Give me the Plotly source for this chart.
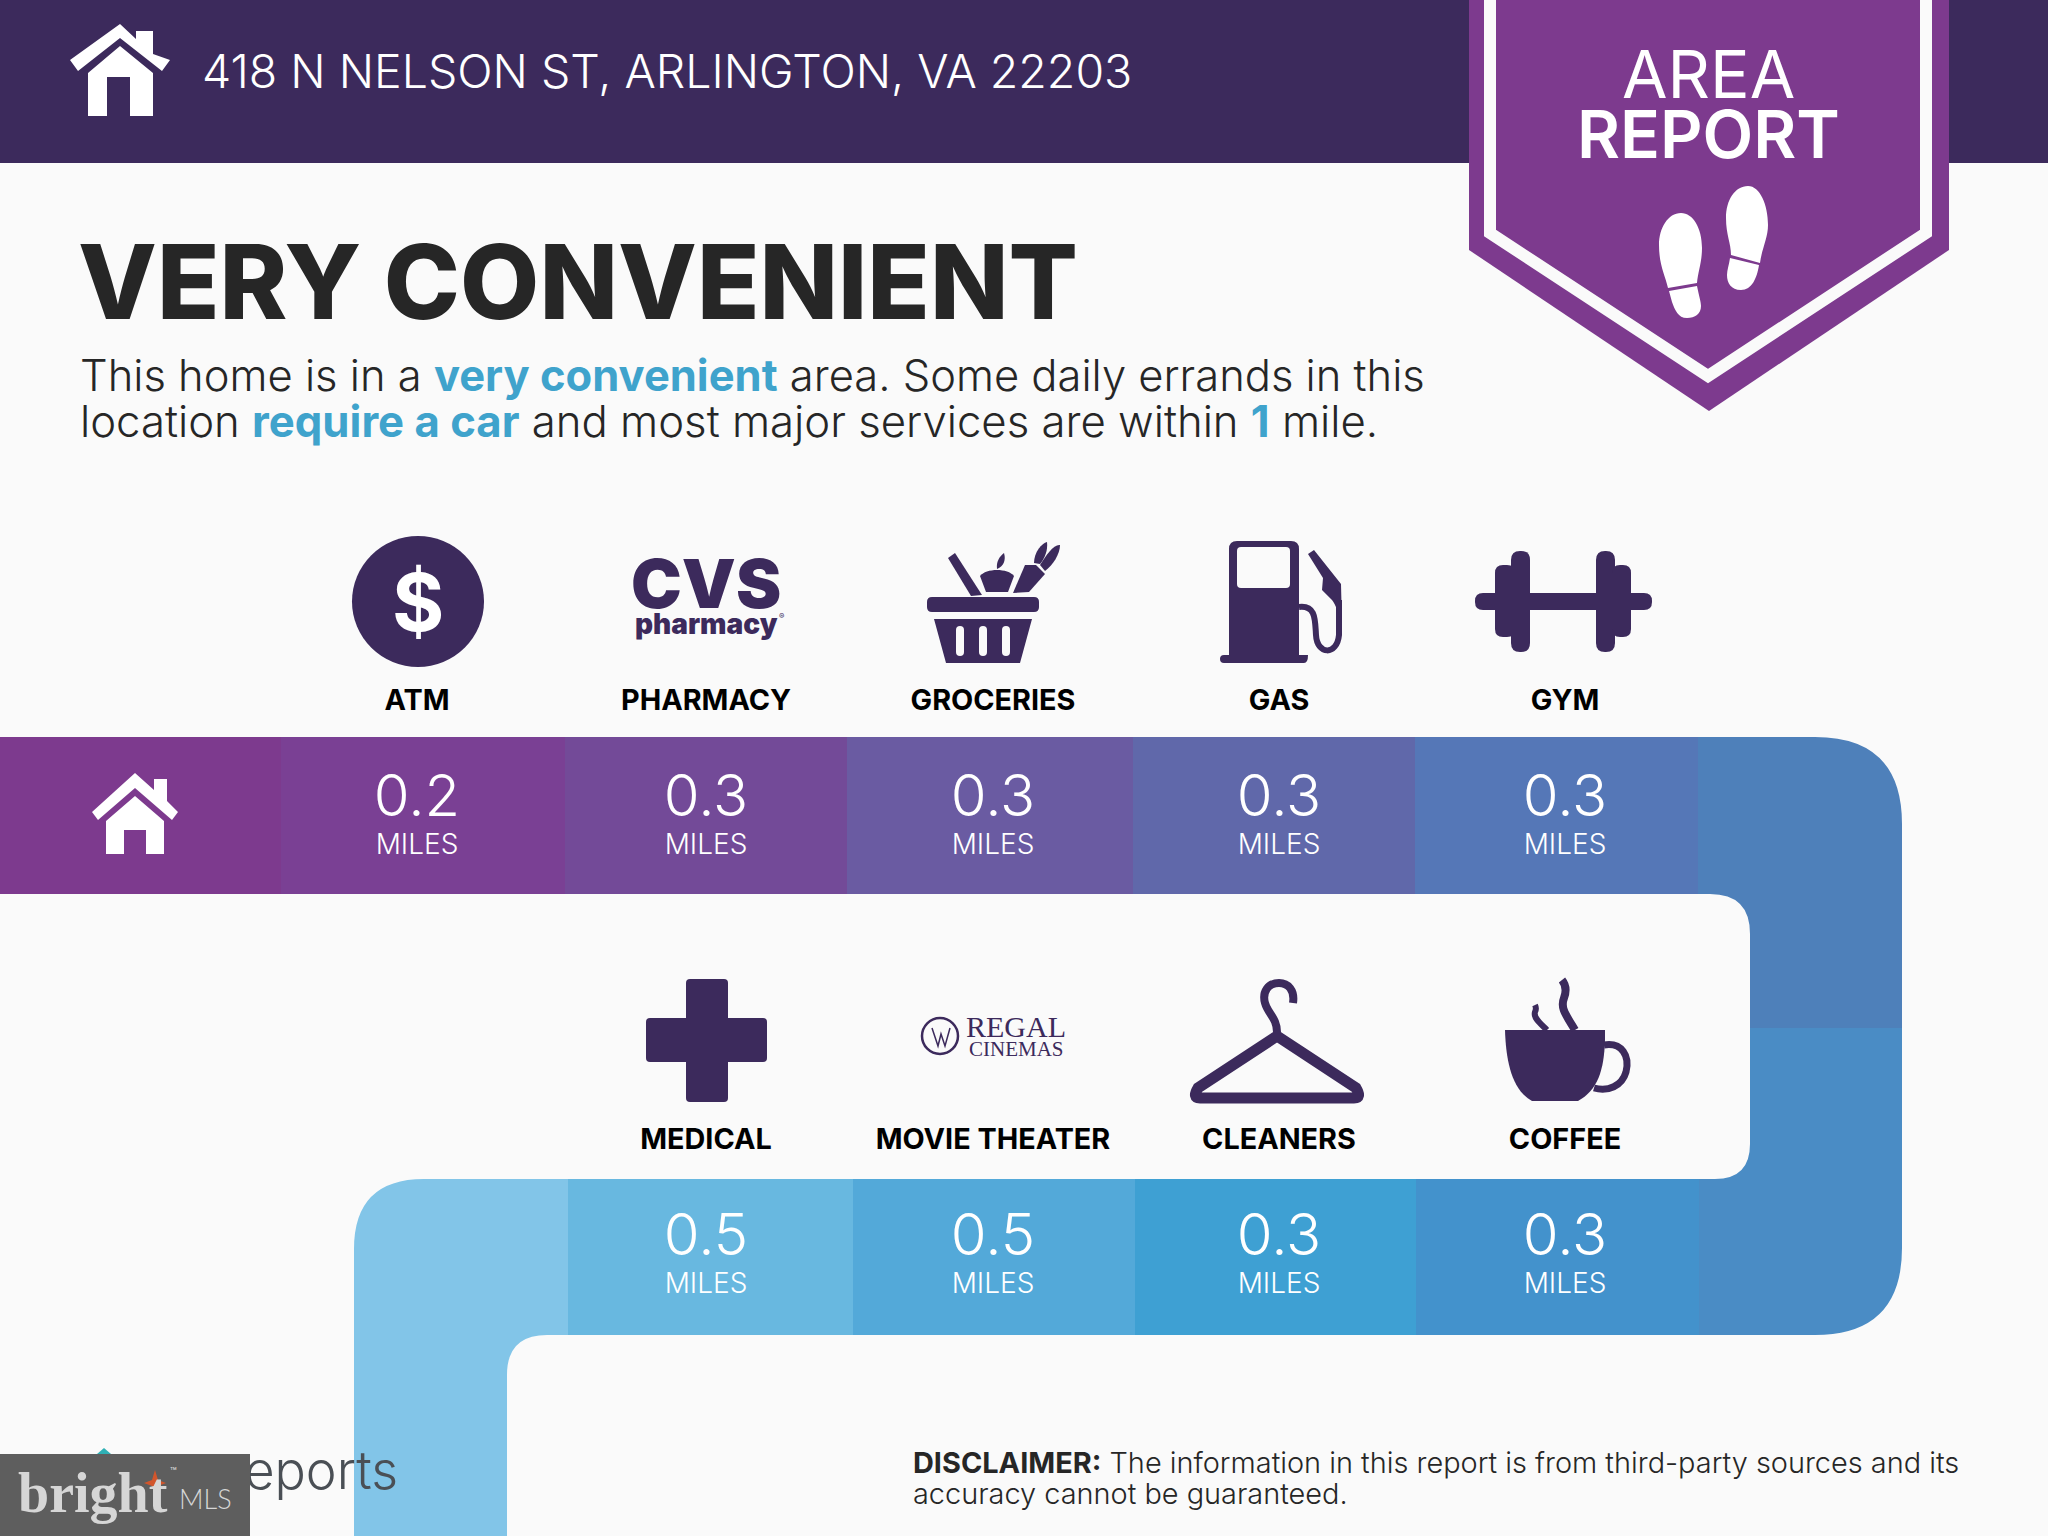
import plotly.graph_objects as go

# values
address = "418 N NELSON ST, ARLINGTON, VA 22203"
places_top = ["ATM", "PHARMACY", "GROCERIES", "GAS", "GYM"]
miles_top = [0.2, 0.3, 0.3, 0.3, 0.3]
places_bottom = ["MEDICAL", "MOVIE THEATER", "CLEANERS", "COFFEE"]
miles_bottom = [0.5, 0.5, 0.3, 0.3]

# layout of the page, in pixels
x_top = [417, 706, 993, 1279, 1565]
x_bottom = [706, 993, 1279, 1565]
edges_top = [0, 281, 565, 847, 1133, 1415, 1699]
edges_bottom = [354, 568, 853, 1135, 1416, 1699]
colors_top = ["#7d3a8e", "#7a4094", "#734a98", "#6a5ba2", "#6068aa", "#5577b7"]
colors_bottom = ["#82c5e8", "#68b8e0", "#53a9d9", "#3ea0d3", "#4392cc"]

BG = "#fafafa"
DARK = "#3c2a5c"
PURPLE = "#7d3a8e"
ACCENT = "#3fa3cc"
INK = "#262626"
FONT = "Inter"

shapes = []
annotations = []


def path(d, fill=DARK, line=None, width=0, layer="below"):
    shapes.append(dict(type="path", path=d, xref="x", yref="y", layer=layer,
                       fillcolor=fill if fill else "rgba(0,0,0,0)",
                       line=dict(color=line if line else "rgba(0,0,0,0)", width=width)))


def rrect(x0, y0, x1, y1, r=0, fill=DARK, layer="below"):
    d = (f"M{x0+r},{y0} L{x1-r},{y0} Q{x1},{y0} {x1},{y0+r} L{x1},{y1-r} Q{x1},{y1} {x1-r},{y1} "
         f"L{x0+r},{y1} Q{x0},{y1} {x0},{y1-r} L{x0},{y0+r} Q{x0},{y0} {x0+r},{y0} Z")
    path(d, fill, layer=layer)


def label(x, y, text, size, color=INK, weight=400, family=FONT, xanchor="left"):
    annotations.append(dict(x=x, y=y, xref="x", yref="y", text=text, showarrow=False,
                            xanchor=xanchor, yanchor="middle", borderpad=0,
                            font=dict(size=size, color=color, family=family, weight=weight)))


# header
rrect(0, 0, 2048, 163, fill=DARK)
path("M120,24 L136,39 L136,31 L153,31 L153,54 L170,60 L162,71 L120,38 L78,71 L70,60 Z", "white")
path("M120,46 L153,73 L153,116 L130,116 L130,77 L107,77 L107,116 L88,116 L88,73 Z", "white")
label(201, 71, address, 46.5, "white", 300)

# banner
path("M1469,0 L1949,0 L1949,250 L1709,411 L1469,250 Z", PURPLE)
path("M1490,-5 L1490,233 L1708,376 L1926,233 L1926,-5", None, BG, 12)
label(1708, 74, "AREA", 66, "white", 400, xanchor="center")
label(1708, 134, "REPORT", 66, "white", 600, xanchor="center")
path("M1681,213 C1693,213 1702,228 1702,248 C1702,262 1698,272 1697,283 L1668,288 "
     "C1665,275 1659,265 1659,245 C1659,228 1668,213 1681,213 Z", "white")
path("M1669,291 L1697,286 C1699,296 1701,302 1701,306 C1701,314 1695,318 1687,318 C1678,318 1675,310 1672,302 Z", "white")
path("M1748,186 C1760,186 1768,205 1768,225 C1768,238 1762,248 1760,263 L1731,255 "
     "C1731,243 1726,235 1726,218 C1726,200 1735,186 1748,186 Z", "white")
path("M1730,258 L1759,265 C1757,278 1752,290 1741,290 C1731,290 1727,283 1727,275 C1727,270 1729,265 1730,258 Z", "white")

# heading and intro
label(77, 282, "VERY CONVENIENT", 102.6, "#262626", 800)
label(79, 375, f'This home is in a <b><span style="color:{ACCENT}">very convenient</span></b> '
      "area. Some daily errands in this", 43.5, INK, 300)
label(79, 421, f'location <b><span style="color:{ACCENT}">require a car</span></b> and most major services are within '
      f'<b><span style="color:{ACCENT}">1</span></b> mile.', 43.7, INK, 300)

# route band, top row
for i, col in enumerate(colors_top):
    rrect(edges_top[i], 737, edges_top[i + 1], 894, fill=col)
# right hand bend
path("M1698,737 L1815,737 Q1902,737 1902,824 L1902,1028 L1698,1028 L1698,894 L1710,894 Q1750,894 1750,934 "
     "L1750,1028 L1698,1028 Z", "#4e80ba")
path("M1750,1028 L1902,1028 L1902,1248 Q1902,1335 1815,1335 L1699,1335 L1699,1179 L1715,1179 Q1750,1179 1750,1144 Z", "#4a8cc5")
# bottom row, with the left bend running off the page
path("M354,1536 L354,1249 Q354,1179 424,1179 L568,1179 L568,1335 L547,1335 Q507,1335 507,1375 L507,1536 Z", colors_bottom[0])
for i, col in enumerate(colors_bottom[1:]):
    rrect(edges_bottom[i + 1], 1179, edges_bottom[i + 2], 1335, fill=col)

# home cell icon
path("M135,773 L154,790 L154,779 L167,779 L167,801 L178,812 L172,820 L135,788 L98,820 L92,812 Z", "white")
path("M135,796 L164,821 L164,854 L146,854 L146,830 L124,830 L124,854 L106,854 L106,821 Z", "white")

# ATM
shapes.append(dict(type="circle", x0=352, y0=536, x1=484, y1=667, xref="x", yref="y",
                   fillcolor=DARK, line=dict(width=0), layer="below"))
label(418, 601, "$", 80, "white", 700, xanchor="center")

# pharmacy logo
label(706, 583, "CVS", 68, DARK, 900, xanchor="center")
label(706, 624, "pharmacy", 28, DARK, 900, xanchor="center")
label(781, 616, "®", 8, DARK, 400, xanchor="center")

# groceries basket
rrect(927, 597, 1039, 612, 5)
path("M934,619 L1032,619 L1020,663 L946,663 Z")
for sx in [960, 983, 1006]:
    rrect(sx - 4, 626, sx + 4, 656, 4, fill=BG)
path("M948,558 L955,553 L982,595 L971,596 Z")
path("M980,576 C986,568 1008,568 1014,576 L1008,592 L986,592 Z")
path("M997,569 C996,561 1000,556 1004,553 C1006,560 1004,566 997,569 Z")
path("M1013,593 L1025,565 L1036,565 L1045,574 L1029,592 Z")
path("M1034,563 C1034,552 1042,543 1047,542 C1048,550 1045,558 1040,564 Z")
path("M1040,565 C1046,555 1054,544 1060,545 C1060,554 1053,565 1045,571 Z")

# gas pump
path("M1237,541 L1291,541 Q1299,541 1299,549 L1299,655 L1308,655 Q1308,663 1304,663 L1224,663 Q1220,663 1220,659 "
     "Q1220,655 1224,655 L1229,655 L1229,549 Q1229,541 1237,541 Z")
rrect(1237, 547, 1290, 588, 4, fill=BG)
path("M1299,607 C1316,605 1315,620 1316,635 C1317,655 1337,656 1339,635 L1339,600", None, DARK, 6)
path("M1308,554 L1314,550 L1341,584 L1342,625 C1338,612 1336,605 1332,600 L1322,590 L1323,578 Z")

# gym dumbbell
rrect(1475, 593, 1652, 610, 8)
rrect(1495, 565, 1515, 637, 8)
rrect(1511, 551, 1530, 652, 9)
rrect(1596, 551, 1615, 652, 9)
rrect(1612, 565, 1631, 637, 8)

# medical cross
rrect(646, 1018, 767, 1062, 4)
rrect(686, 979, 728, 1102, 4)

# cinema logo
shapes.append(dict(type="circle", x0=922, y0=1018, x1=958, y1=1054, xref="x", yref="y",
                   fillcolor="rgba(0,0,0,0)", line=dict(color=DARK, width=2.5), layer="below"))
path("M932,1028 L938,1046 L941,1034 L945,1046 L950,1028", None, DARK, 1.5)
label(1016, 1026, "REGAL", 30, DARK, 400, "Liberation Serif", "center")
label(1016, 1049, "CINEMAS", 21, DARK, 400, "Liberation Serif", "center")

# cleaners hanger
path("M1277,1036 L1198,1088 Q1192,1098 1200,1098 L1354,1098 Q1362,1098 1356,1088 Z", None, DARK, 11)
path("M1293,1003 C1295,990 1288,983 1279,983 C1268,983 1262,992 1265,1003 C1268,1014 1277,1018 1277,1032", None, DARK, 8)

# coffee cup
path("M1505,1030 L1605,1030 L1605,1040 C1604,1070 1598,1090 1578,1101 L1532,1101 C1512,1090 1506,1062 1505,1030 Z")
path("M1604,1045 C1622,1042 1630,1056 1626,1072 C1622,1086 1608,1092 1594,1088", None, DARK, 7)
path("M1575,1030 C1566,1015 1560,1008 1564,998 C1567,990 1566,985 1562,980", None, DARK, 8)
path("M1547,1030 C1541,1024 1533,1018 1535,1012 C1536,1010 1536,1007 1535,1005", None, DARK, 6)

# footer
label(912, 1462, "<b>DISCLAIMER:</b> The information in this report is from third-party sources and its", 28.9, INK, 300)
label(912, 1493, "accuracy cannot be guaranteed.", 28.9, INK, 300)

path("M104,1448 L118,1460 L90,1460 Z", "#2fb0b5")
rrect(200, 1444, 250, 1454, fill=BG, layer="above")
rrect(0, 1454, 250, 1536, fill="#5e5e5e", layer="above")
label(17, 1493, "bright", 56, "#d6d6d6", 700, "Liberation Serif")
label(178, 1498, "MLS", 27, "#d6d6d6", 300, "Lato")
label(169, 1471, "™", 11, "#d6d6d6", 400)
shapes.append(dict(type="path", path="M155,1470 L158,1480 L166,1483 L158,1486 L155,1496 L152,1486 L144,1483 L152,1480 Z",
                   xref="x", yref="y", layer="above", fillcolor="#d2562c", line=dict(width=0)))

fig = go.Figure()

# text of the stops
for names, xs, miles, offset in [(places_top, x_top, miles_top, 0), (places_bottom, x_bottom, miles_bottom, 439)]:
    fig.add_trace(go.Scatter(x=xs, y=[703 + offset] * len(xs), text=names, mode="text", hoverinfo="skip",
                             textfont=dict(size=28.8, color="#000000", family=FONT, weight=700)))
    fig.add_trace(go.Scatter(x=xs, y=[801 + offset] * len(xs), text=[f"{m:.1f}" for m in miles], mode="text",
                             hoverinfo="skip", textfont=dict(size=58, color="white", family=FONT, weight=300)))
    fig.add_trace(go.Scatter(x=xs, y=[847 + offset] * len(xs), text=["MILES"] * len(xs), mode="text",
                             hoverinfo="skip", textfont=dict(size=28, color="white", family=FONT, weight=300)))

# sits under the watermark box
fig.add_trace(go.Scatter(x=[398], y=[1476], text=["Reports"], mode="text", textposition="middle left",
                         hoverinfo="skip", textfont=dict(size=52, color="#4a4f55", family=FONT, weight=300)))

fig.update_layout(
    width=2048, height=1536, margin=dict(l=0, r=0, t=0, b=0), showlegend=False,
    paper_bgcolor=BG, plot_bgcolor=BG, shapes=shapes, annotations=annotations,
    xaxis=dict(range=[0, 2048], visible=False, fixedrange=True),
    yaxis=dict(range=[1536, 0], visible=False, fixedrange=True),
)
fig.write_html("out.html", config=dict(displayModeBar=False),
               post_script="document.body.style.margin='0';document.body.style.background='#fafafa';")
